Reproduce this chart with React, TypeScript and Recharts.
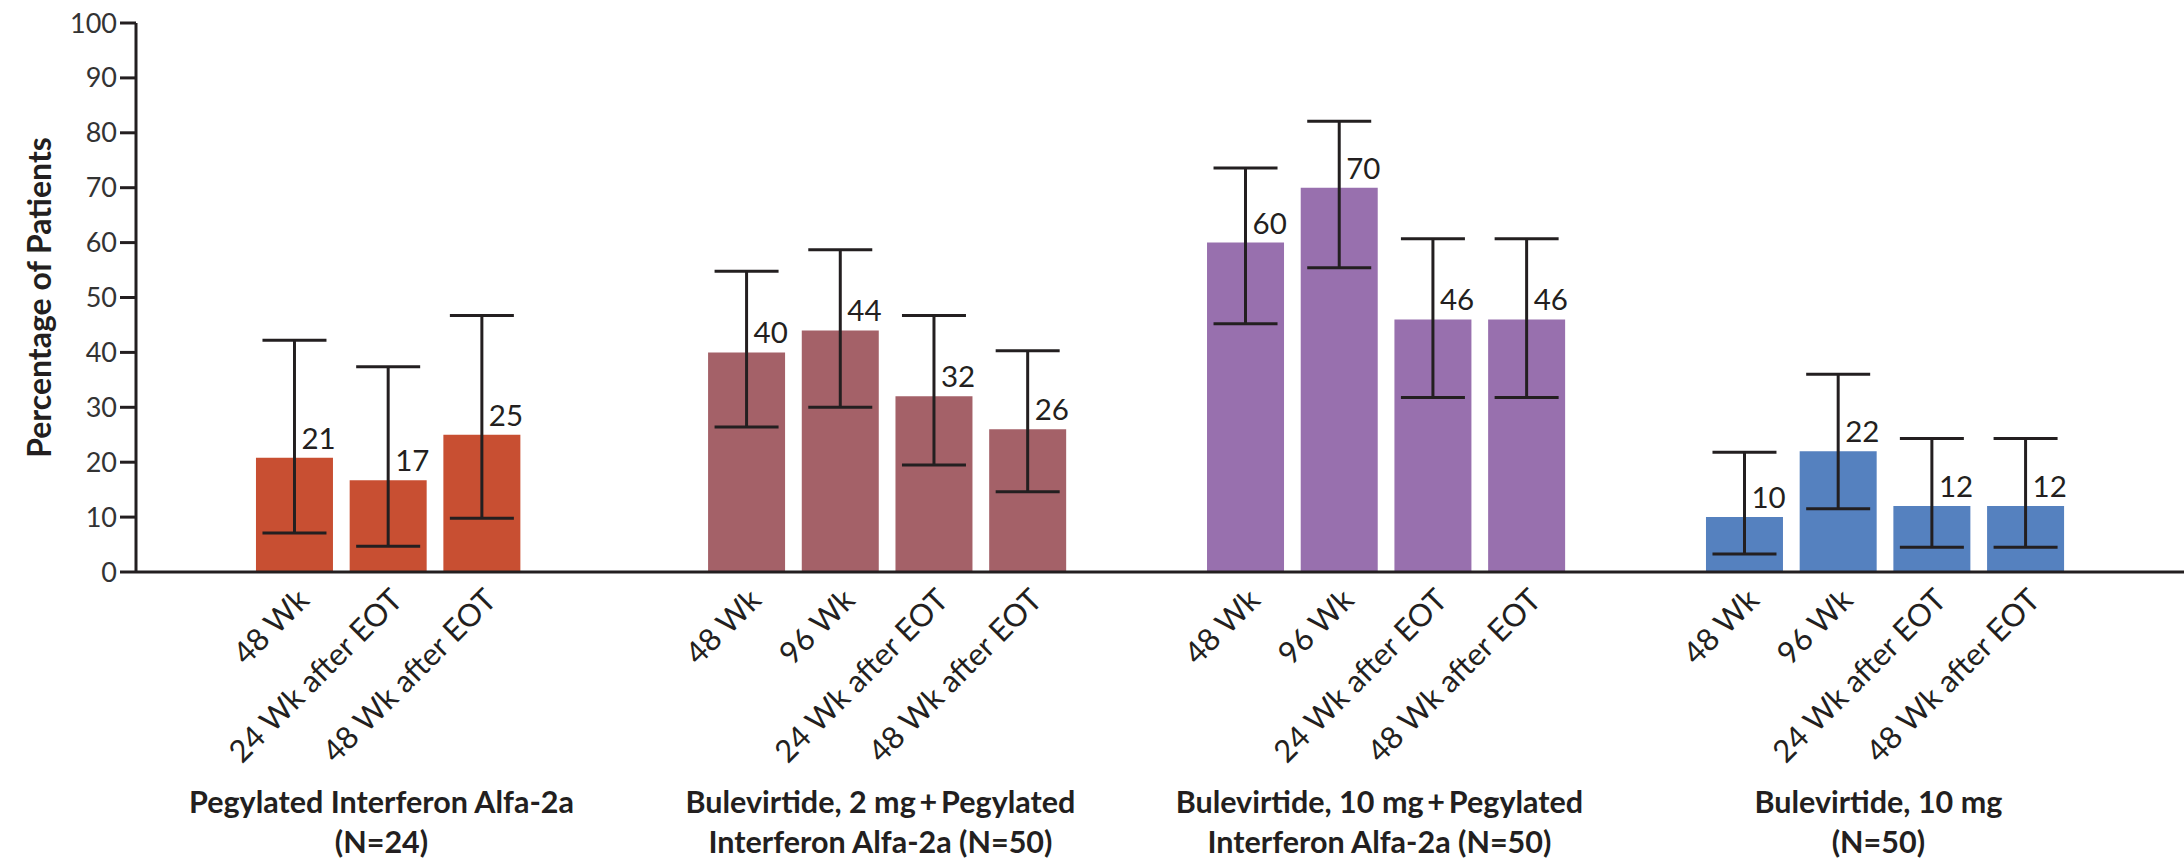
import React from "react";
import {
  BarChart,
  Bar,
  XAxis,
  YAxis,
  ErrorBar,
  Cell,
  LabelList,
  Label,
} from "recharts";

// group names (two lines each)
const groupLine1 = [
  "Pegylated Interferon Alfa-2a",
  "Bulevirtide, 2 mg\u2009+\u2009Pegylated",
  "Bulevirtide, 10 mg\u2009+\u2009Pegylated",
  "Bulevirtide, 10 mg",
];
const groupLine2 = [
  "(N=24)",
  "Interferon Alfa-2a (N=50)",
  "Interferon Alfa-2a (N=50)",
  "(N=50)",
];

const timepoints = [
  ["48 Wk", "24 Wk after EOT", "48 Wk after EOT"],
  ["48 Wk", "96 Wk", "24 Wk after EOT", "48 Wk after EOT"],
  ["48 Wk", "96 Wk", "24 Wk after EOT", "48 Wk after EOT"],
  ["48 Wk", "96 Wk", "24 Wk after EOT", "48 Wk after EOT"],
];

const values = [
  [20.8, 16.7, 25],
  [40, 44, 32, 26],
  [60, 70, 46, 46],
  [10, 22, 12, 12],
];
const lower = [
  [7.1, 4.7, 9.8],
  [26.4, 30.0, 19.5, 14.6],
  [45.2, 55.4, 31.8, 31.8],
  [3.3, 11.5, 4.5, 4.5],
];
const upper = [
  [42.2, 37.4, 46.7],
  [54.8, 58.7, 46.7, 40.3],
  [73.6, 82.1, 60.7, 60.7],
  [21.8, 36.0, 24.3, 24.3],
];

const colors = ["#c84f32", "#a46168", "#9870ae", "#5581bf"];
const yTicks = [0, 10, 20, 30, 40, 50, 60, 70, 80, 90, 100];

// layout in "slot" units: 4 slots per group, groups spaced a bit further apart
const GROUP_STEP = 5.325;
const X_DOMAIN = [-1.195, 20.662];
const PLOT_WIDTH = 2184 - 136;
const PX_PER_UNIT = PLOT_WIDTH / (X_DOMAIN[1] - X_DOMAIN[0]);
const INK = "#231f20";
const FONT = "Lato, 'Open Sans', sans-serif";

const rows = values.flatMap((vals, g) =>
  vals.map((v, i) => ({
    x: g * GROUP_STEP + i + (4 - vals.length) / 2,
    value: v,
    err: [v - lower[g][i], upper[g][i] - v],
    label: timepoints[g][i],
    group: g,
    first: i === 0,
  }))
);
const groupCenter = (g: number) => g * GROUP_STEP + 1.5;

const TimeTick = ({ x, y, payload }: any) => {
  const row = rows.find((r) => Math.abs(r.x - payload.value) < 1e-6);
  if (!row) return null;
  const ax = x + 16;
  const ay = y + 30;
  // group title drawn once, under the first bar of each group
  const gx = x + (groupCenter(row.group) - row.x) * PX_PER_UNIT - 7;
  return (
    <g>
      <text
        x={ax}
        y={ay}
        textAnchor="end"
        transform={`rotate(-45, ${ax}, ${ay})`}
        fontSize={31}
        fontFamily={FONT}
        fill={INK}
      >
        {row.label}
      </text>
      {row.first && (
        <text
          textAnchor="middle"
          fontSize={30.5}
          fontWeight={700}
          fontFamily={FONT}
          fill={INK}
        >
          <tspan x={gx} y={y + 241}>
            {groupLine1[row.group]}
          </tspan>
          <tspan x={gx} y={y + 281}>
            {groupLine2[row.group]}
          </tspan>
        </text>
      )}
    </g>
  );
};

const ValueLabel = (props: any) => {
  const { x, y, width, value } = props;
  return (
    <text
      x={x + width / 2 + 7}
      y={y - 9}
      fontSize={29.5}
      fontFamily={FONT}
      fill={INK}
    >
      {Math.round(value)}
    </text>
  );
};

export default function App() {
  return (
    <div style={{ position: "absolute", left: 0, top: 0, background: "#fff" }}>
      <BarChart
        width={2184}
        height={864}
        data={rows}
        margin={{ top: 23, right: 0, bottom: 0, left: 0 }}
      >
        <YAxis
          type="number"
          domain={[0, 100]}
          ticks={yTicks}
          width={136}
          tickSize={16}
          tickMargin={3}
          axisLine={{ stroke: INK, strokeWidth: 3 }}
          tickLine={{ stroke: INK, strokeWidth: 3 }}
          tick={{ fontSize: 27, fontFamily: FONT, fill: "#333" }}
          interval={0}
        >
          <Label
            content={({ viewBox }: any) => {
              const cx = viewBox.x + 38;
              const cy = viewBox.y + viewBox.height / 2;
              return (
                <text
                  x={cx}
                  y={cy}
                  textAnchor="middle"
                  dominantBaseline="central"
                  transform={`rotate(-90, ${cx}, ${cy})`}
                  fontSize={32}
                  fontWeight={700}
                  fontFamily={FONT}
                  fill={INK}
                >
                  Percentage of Patients
                </text>
              );
            }}
          />
        </YAxis>
        <XAxis
          type="number"
          dataKey="x"
          domain={X_DOMAIN}
          allowDataOverflow
          ticks={rows.map((r) => r.x)}
          interval={0}
          height={292}
          tickSize={0}
          tickMargin={0}
          tickLine={false}
          axisLine={{ stroke: INK, strokeWidth: 3 }}
          tick={<TimeTick />}
        />
        <Bar dataKey="value" barSize={77} isAnimationActive={false}>
          {rows.map((r, i) => (
            <Cell key={i} fill={colors[r.group]} />
          ))}
          <ErrorBar
            dataKey="err"
            width={32}
            stroke={INK}
            strokeWidth={3}
            direction="y"
          />
          <LabelList dataKey="value" content={<ValueLabel />} />
        </Bar>
      </BarChart>
    </div>
  );
}
